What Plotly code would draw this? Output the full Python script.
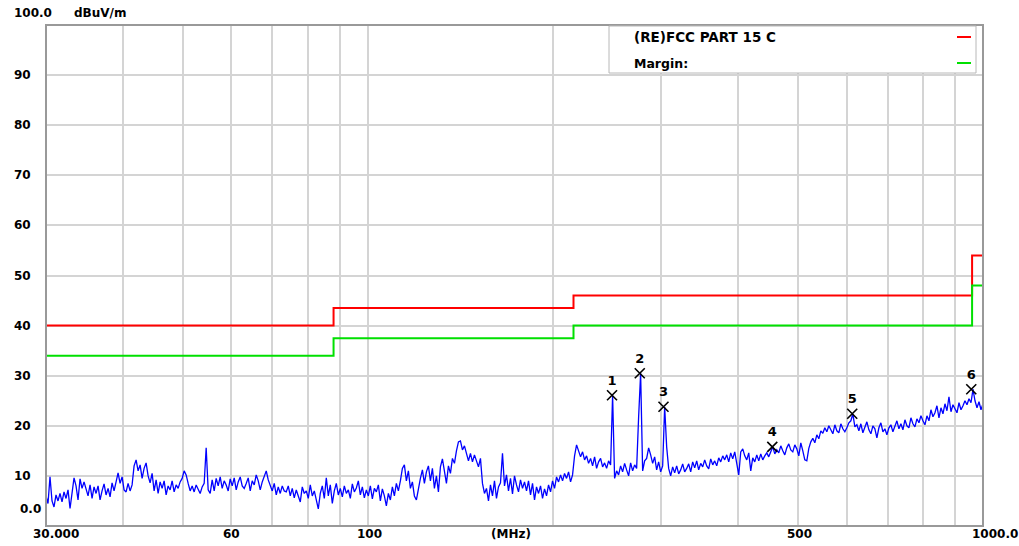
import numpy as np
import plotly.graph_objects as go

# ---------------- data ----------------
F_START, F_STOP = 30.0, 1000.0

# measured level trace (dBuV/m), sweep points evenly spaced on the log frequency axis
levels = [
    6.0, 4.5, 9.8, 5.0, 3.8, 6.2, 5.0, 6.5, 4.8, 6.8, 5.5, 7.2, 3.5, 7.0, 9.6, 8.0, 5.2, 9.4, 7.5, 8.8,
    7.5, 6.0, 8.2, 5.5, 7.8, 6.5, 8.0, 5.2, 7.0, 8.4, 6.2, 7.5, 5.8, 8.6, 7.0, 9.0, 10.6, 8.5, 9.8, 7.2,
    6.8, 8.5, 7.0, 8.2, 12.0, 13.2, 11.0, 12.2, 9.5, 11.5, 12.6, 10.0, 8.6, 10.5, 7.0, 9.2, 6.5, 8.8, 7.5, 9.0,
    6.2, 8.0, 7.2, 9.0, 6.8, 8.2, 7.5, 8.8, 9.5, 11.0, 10.2, 8.5, 7.0, 8.0, 6.8, 8.2, 7.4, 6.5, 7.8, 8.5,
    15.6, 7.2, 6.5, 9.2, 7.0, 9.5, 8.0, 9.8, 7.5, 9.0, 8.2, 7.0, 9.4, 8.0, 9.6, 7.2, 8.8, 9.8, 8.0, 7.5,
    8.5, 9.6, 7.0, 9.0, 8.2, 10.2, 9.0, 7.2, 8.8, 9.8, 11.0, 9.2, 8.0, 7.0, 8.5, 6.2, 7.8, 6.5, 8.0, 7.0,
    6.8, 8.0, 6.0, 7.5, 5.6, 7.2, 6.0, 4.8, 7.8, 6.5, 7.0, 5.5, 8.2, 6.0, 7.0, 5.2, 3.4, 6.5, 8.0, 5.5,
    9.6, 6.0, 8.2, 4.5, 7.0, 8.5, 6.2, 7.5, 5.8, 8.0, 6.5, 7.2, 5.5, 8.4, 6.8, 7.6, 9.0, 6.2, 7.8, 5.6,
    7.2, 6.0, 8.0, 5.4, 7.5, 6.8, 8.2, 5.0, 7.4, 6.0, 4.0, 6.5, 5.2, 7.8, 6.0, 8.5, 7.0, 9.0, 11.5, 12.2,
    9.0, 11.0, 7.5, 8.8, 6.0, 5.2, 7.8, 9.5, 11.2, 8.5, 10.8, 12.0, 9.0, 11.5, 7.5, 10.0, 6.8, 11.8, 13.4, 10.5,
    8.5, 12.0, 10.5, 13.5, 12.5, 15.0, 16.8, 17.0, 15.2, 16.0, 14.2, 13.0, 14.5, 12.8, 14.2, 13.0, 11.8, 13.5, 8.5, 6.5,
    7.5, 5.0, 8.2, 6.0, 9.0, 5.5, 7.8, 8.6, 14.5, 8.0, 10.2, 7.0, 9.5, 6.4, 10.0, 8.2, 6.8, 9.2, 7.5, 8.8,
    7.0, 9.0, 6.2, 8.5, 5.2, 7.8, 6.5, 8.0, 5.5, 7.4, 6.0, 8.2, 6.8, 9.0, 7.5, 9.8, 8.8, 10.2, 9.0, 10.5,
    9.5, 10.8, 8.8, 10.2, 14.0, 16.2, 15.0, 13.8, 14.8, 13.2, 14.0, 12.5, 13.5, 12.0, 13.8, 11.5, 12.8, 13.5, 11.8, 12.6,
    11.5, 13.0, 12.2, 26.1, 9.5, 11.0, 10.2, 12.0, 10.8, 12.5, 11.2, 10.0, 12.6, 11.0, 12.2, 11.5, 21.8, 30.5, 11.0, 13.0,
    13.5, 15.6, 14.2, 12.5, 13.8, 11.2, 12.8, 10.8, 12.0, 23.8, 15.8, 11.5, 10.0, 11.8, 10.6, 12.0, 10.4, 11.2, 12.4, 10.8,
    11.5, 12.4, 10.8, 12.8, 11.6, 13.0, 11.2, 12.5, 11.8, 13.2, 12.0, 11.4, 13.4, 12.2, 13.0, 12.0, 13.6, 12.8, 14.0, 13.2,
    14.2, 12.8, 14.6, 13.4, 14.8, 12.6, 10.2, 14.8, 15.4, 14.0, 13.2, 14.6, 11.0, 13.6, 12.8, 14.2, 13.0, 14.4, 13.2, 14.0,
    14.6, 13.8, 15.0, 15.8, 14.4, 15.2, 14.6, 16.0, 15.0, 14.2, 15.6, 16.4, 15.2, 14.8, 16.2, 15.4, 14.0, 16.6, 15.0, 13.2,
    13.0, 15.5, 16.8, 17.5, 16.6, 18.2, 17.4, 19.0, 18.5, 19.6, 18.8, 20.0, 19.2, 18.4, 20.2, 19.0, 18.6, 20.4, 19.4, 18.8,
    19.6, 20.6, 21.0, 22.4, 19.8, 20.2, 19.0, 20.4, 18.6, 19.8, 20.8, 19.2, 18.4, 20.0, 19.4, 17.6, 19.6, 20.6, 18.8, 19.4,
    18.2, 19.6, 20.2, 18.8, 19.8, 21.0, 19.4, 20.4, 19.2, 21.2, 20.0, 19.6, 21.6, 20.4, 19.8, 21.4, 20.6, 22.0, 21.0, 20.2,
    22.0, 21.0, 23.2, 21.8, 22.6, 24.0, 21.6, 23.6, 22.4, 24.4, 23.0, 25.8, 22.8, 24.2, 23.4, 22.6, 24.6, 23.2, 24.0, 25.0,
    24.2, 25.4, 24.6, 27.3, 25.0, 23.6, 24.8, 23.2, 24.4,
]
freq = np.geomspace(F_START, F_STOP, len(levels))

# limit (FCC Part 15 C) and margin lines
limit_edges = [30, 88, 216, 960, 1000]
limit_levels = [40, 43.5, 46, 54]
margin_levels = [34, 37.5, 40, 48]

# marked peaks
marker_ids = ["1", "2", "3", "4", "5", "6"]
marker_freq = [249.5, 276.8, 302.5, 454.5, 613.0, 957.0]
marker_level = [26.1, 30.5, 23.8, 15.8, 22.4, 27.3]

# axes labels
y_grid = [10, 20, 30, 40, 50, 60, 70, 80, 90]
y_label_vals = [100, 90, 80, 70, 60, 50, 40, 30, 20, 10, 0]
y_label_text = ["100.0", "90", "80", "70", "60", "50", "40", "30", "20", "10", "0.0"]
x_grid = [40, 50, 60, 70, 80, 90, 100, 200, 300, 400, 500, 600, 700, 800, 900]
x_label_vals = [30, 60, 100, 171, 500, 1000]
x_label_text = ["30.000", "60", "100", "(MHz)", "500", "1000.0"]
y_unit = "dBuV/m"
legend_names = ["(RE)FCC PART 15 C", "Margin:"]

# ---------------- figure ----------------
W, H = 1019, 546
L, R, T, B = 46, 36, 25, 20
PW, PH = W - L - R, H - T - B


def px(xp):
    return (xp - L) / PW


def py(yp):
    return (H - B - yp) / PH


FONT = dict(family="DejaVu Sans", size=12, color="black", weight="bold")

fig = go.Figure()

fig.add_trace(go.Scatter(
    x=freq, y=levels, mode="lines",
    line=dict(color="#0000ff", width=1.3), hoverinfo="skip"))

fig.add_trace(go.Scatter(
    x=limit_edges, y=limit_levels + [limit_levels[-1]], mode="lines",
    line=dict(color="#ff0000", width=2, shape="hv"), hoverinfo="skip"))
fig.add_trace(go.Scatter(
    x=limit_edges, y=margin_levels + [margin_levels[-1]], mode="lines",
    line=dict(color="#00e000", width=2, shape="hv"), hoverinfo="skip"))

fig.add_trace(go.Scatter(
    x=marker_freq, y=marker_level, mode="markers+text",
    marker=dict(symbol="x-thin", size=10, line=dict(color="black", width=1.6), color="black"),
    text=marker_ids, textposition="top center",
    textfont=dict(family="DejaVu Sans", size=13, color="black", weight="bold"),
    hoverinfo="skip"))

fig.update_xaxes(
    type="log", range=[np.log10(F_START), np.log10(F_STOP)],
    tickvals=x_grid, showticklabels=False, ticks="",
    showgrid=True, gridcolor="#d4d4d4", gridwidth=1.5,
    zeroline=False, showline=False)
fig.update_yaxes(
    range=[0, 100], tickvals=y_grid, showticklabels=False, ticks="",
    showgrid=True, gridcolor="#d4d4d4", gridwidth=1.5,
    zeroline=False, showline=False)

shapes = [
    dict(type="rect", xref="paper", yref="paper", x0=0, x1=1, y0=0, y1=1,
         line=dict(color="#999999", width=2), layer="above"),
    dict(type="rect", xref="paper", yref="paper", x0=px(609), x1=px(976), y0=py(73), y1=py(26),
         line=dict(color="#b8b8b8", width=1), fillcolor="white", layer="above"),
    dict(type="line", xref="paper", yref="paper", x0=px(957), x1=px(971), y0=py(37), y1=py(37),
         line=dict(color="#ff0000", width=2), layer="above"),
    dict(type="line", xref="paper", yref="paper", x0=px(957), x1=px(971), y0=py(63), y1=py(63),
         line=dict(color="#00e000", width=2), layer="above"),
]

annotations = []
# y labels
for v, t in zip(y_label_vals, y_label_text):
    shift = 0
    xleft = 12
    if v == 100:
        shift = 12
    if v == 0:
        shift = 17
        xleft = 18
    annotations.append(dict(
        xref="paper", yref="y", x=px(xleft), y=v, text=t, showarrow=False,
        xanchor="left", yanchor="middle", yshift=shift, font=FONT))
annotations.append(dict(
    xref="paper", yref="paper", x=px(72), y=py(13), text=y_unit, showarrow=False,
    xanchor="left", yanchor="middle", font=FONT))
# x labels
x_shifts = [10, 0, 2, 0, 2, 12]
for v, t, s in zip(x_label_vals, x_label_text, x_shifts):
    annotations.append(dict(
        xref="x", yref="paper", x=np.log10(v), y=py(534), text=t, showarrow=False,
        xanchor="center", yanchor="middle", xshift=s, font=FONT))
# legend text
annotations.append(dict(
    xref="paper", yref="paper", x=px(632), y=py(37), text=legend_names[0], showarrow=False,
    xanchor="left", yanchor="middle", font=dict(FONT, size=13.5)))
annotations.append(dict(
    xref="paper", yref="paper", x=px(632), y=py(63), text=legend_names[1], showarrow=False,
    xanchor="left", yanchor="middle", font=dict(FONT, size=12.5)))

fig.update_layout(
    width=W, height=H,
    margin=dict(l=L, r=R, t=T, b=B),
    paper_bgcolor="white", plot_bgcolor="white",
    showlegend=False,
    shapes=shapes, annotations=annotations)

fig.write_html(
    "out.html",
    config={"displayModeBar": False},
    post_script="document.body.style.margin='0px';document.body.style.overflow='hidden';")
